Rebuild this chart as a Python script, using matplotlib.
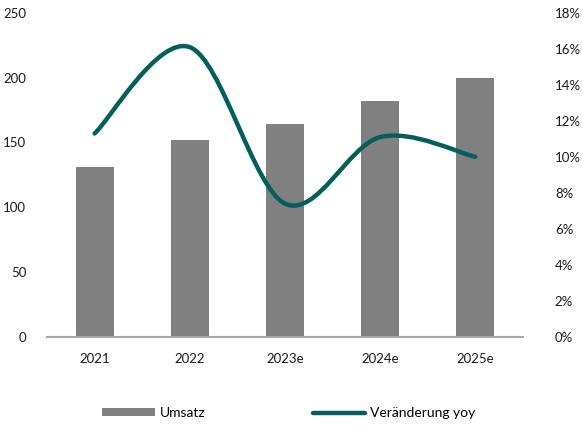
import matplotlib
matplotlib.use("Agg")
import matplotlib.pyplot as plt
import numpy as np
from matplotlib.path import Path
from matplotlib.patches import PathPatch, Patch
from matplotlib.lines import Line2D
from matplotlib.ticker import FuncFormatter

plt.rcParams['font.family'] = ['Lato', 'DejaVu Sans']

categories = ["2021", "2022", "2023e", "2024e", "2025e"]
umsatz = [131, 152, 164, 182, 200]
veraenderung = [11.3, 16.1, 7.4, 11.1, 10.0]  # percent

bar_color = "#808080"
line_color = "#045E5C"
axis_color = "#A6A6A6"
fs = 9.5

fig = plt.figure(figsize=(5.82, 4.33), dpi=100)
ax = fig.add_axes([0.0808, 0.2224, 0.8178, 0.7476])
ax2 = ax.twinx()

x = np.arange(len(categories))
ax.bar(x, umsatz, width=0.4, color=bar_color, zorder=2)
ax.set_xlim(-0.5, len(categories) - 0.5)
ax.set_ylim(0, 250)
ax.set_yticks(np.arange(0, 251, 50))
ax2.set_ylim(0, 18)
ax2.set_yticks(np.arange(0, 19, 2))
ax2.yaxis.set_major_formatter(FuncFormatter(lambda v, p: f"{v:.0f}%"))

ax.set_xticks(x)
ax.set_xticklabels(categories)

for a in (ax, ax2):
    for s in a.spines.values():
        s.set_visible(False)
    a.tick_params(length=0, labelsize=fs, colors="#1a1a1a")
ax.spines['bottom'].set_visible(True)
ax.spines['bottom'].set_color(axis_color)
ax.spines['bottom'].set_linewidth(1.5)
ax.spines['bottom'].set_zorder(3)
ax.tick_params(axis='y', pad=15)
ax.tick_params(axis='x', pad=12)
ax2.tick_params(axis='y', pad=23)

# smooth (Excel-like) curve through data points, built in display space
fig.canvas.draw()
pts = ax2.transData.transform(np.column_stack([x, veraenderung]))
n = len(pts)
verts = [pts[0]]
codes = [Path.MOVETO]
for i in range(n - 1):
    p0 = pts[i - 1] if i > 0 else pts[i]
    p1 = pts[i]
    p2 = pts[i + 1]
    p3 = pts[i + 2] if i + 2 < n else pts[i + 1]
    c1 = p1 + (p2 - p0) / 6.0
    c2 = p2 - (p3 - p1) / 6.0
    verts += [c1, c2, p2]
    codes += [Path.CURVE4] * 3
verts = ax2.transData.inverted().transform(np.array(verts))
path = Path(verts, codes)
ax2.add_patch(PathPatch(path, facecolor="none", edgecolor=line_color,
                        lw=3.2, capstyle="round", joinstyle="round", zorder=4))

handles = [Patch(facecolor=bar_color, edgecolor="none", label="Umsatz"),
           Line2D([0], [0], color=line_color, lw=3.2, solid_capstyle="round",
                  label="Veränderung yoy")]
fig.legend(handles=handles, loc="center left", bbox_to_anchor=(0.176, 0.046),
           ncol=2, frameon=False, fontsize=10, handlelength=3.75,
           handleheight=0.45, handletextpad=0.35, columnspacing=7.8,
           borderpad=0, borderaxespad=0)

fig.savefig("out.png", dpi=100)
